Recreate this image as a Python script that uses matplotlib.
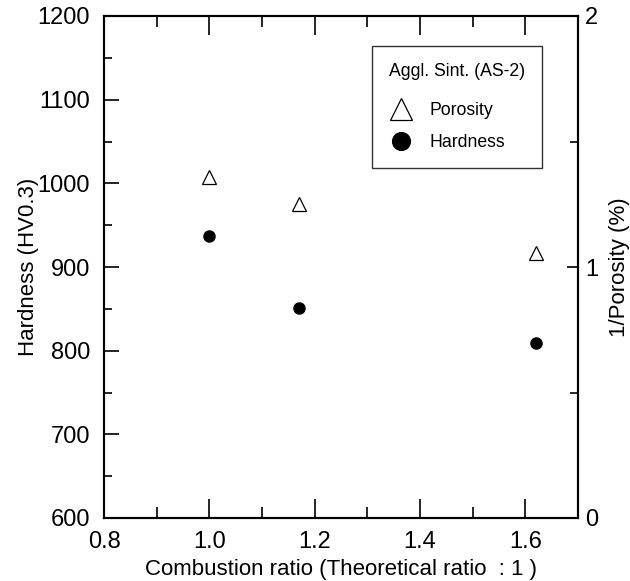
import matplotlib.pyplot as plt
from matplotlib.ticker import MultipleLocator

plt.rcParams['font.family'] = ['Liberation Sans', 'DejaVu Sans']

# data
ratio = [1.0, 1.17, 1.62]
hardness = [937, 851, 809]
inv_porosity = [1.36, 1.25, 1.055]

fig = plt.figure(figsize=(6.3, 5.81), dpi=100)
ax = fig.add_axes([104 / 630, 1 - 518 / 581, 474 / 630, 502 / 581])
ax2 = ax.twinx()

h_pts, = ax.plot(ratio, hardness, 'o', color='black', markersize=8, linestyle='none')
p_pts, = ax2.plot(ratio, inv_porosity, '^', markerfacecolor='white', markeredgecolor='black',
                  markeredgewidth=0.9, markersize=9.5, linestyle='none')

ax.set_xlim(0.8, 1.7)
ax.set_ylim(600, 1200)
ax2.set_ylim(0, 2)

ax.xaxis.set_minor_locator(MultipleLocator(0.1))
ax.yaxis.set_major_locator(MultipleLocator(100))
ax.yaxis.set_minor_locator(MultipleLocator(50))
ax2.yaxis.set_major_locator(MultipleLocator(1))
ax2.yaxis.set_minor_locator(MultipleLocator(0.5))
ax.set_xticks([0.8, 1.0, 1.2, 1.4, 1.6])
ax.set_xticklabels(['0.8', '1.0', '1.2', '1.4', '1.6'])

ax.tick_params(axis='x', which='major', direction='in', length=14, width=1.2,
               top=True, labelsize=17, pad=9)
ax.tick_params(axis='x', which='minor', direction='in', length=8, width=1.2, top=True)
ax.tick_params(axis='y', which='major', direction='in', length=11, width=1.2, labelsize=17, pad=10)
ax.tick_params(axis='y', which='minor', direction='in', length=6, width=1.2)
ax2.tick_params(axis='y', which='major', direction='in', length=8, width=1.2, labelsize=17, pad=5)
ax2.tick_params(axis='y', which='minor', direction='in', length=6, width=1.2)

for a in (ax, ax2):
    for s in a.spines.values():
        s.set_linewidth(1.5)

ax.set_xlabel('Combustion ratio (Theoretical ratio \u00a0:\u00a01 )', fontsize=16, labelpad=5)
ax.set_ylabel('Hardness (HV0.3)', fontsize=16, labelpad=-1)
ax2.set_ylabel('1/Porosity (%)', fontsize=16, labelpad=8)

leg = ax.legend([p_pts, h_pts], ['Porosity', 'Hardness'], title='Aggl. Sint. (AS-2)',
                loc='upper right', bbox_to_anchor=(438 / 474, 1 - 30 / 502),
                fontsize=12.7, title_fontsize=12.7, frameon=True, fancybox=False,
                edgecolor='black', markerscale=1.6, handletextpad=1.0,
                borderpad=0.95, labelspacing=0.85, handlelength=1.3, borderaxespad=0)
leg.get_frame().set_linewidth(1.0)
leg._legend_box.align = 'left'
leg._legend_box.sep = 16

fig.savefig('out.png', dpi=100, facecolor='white')
